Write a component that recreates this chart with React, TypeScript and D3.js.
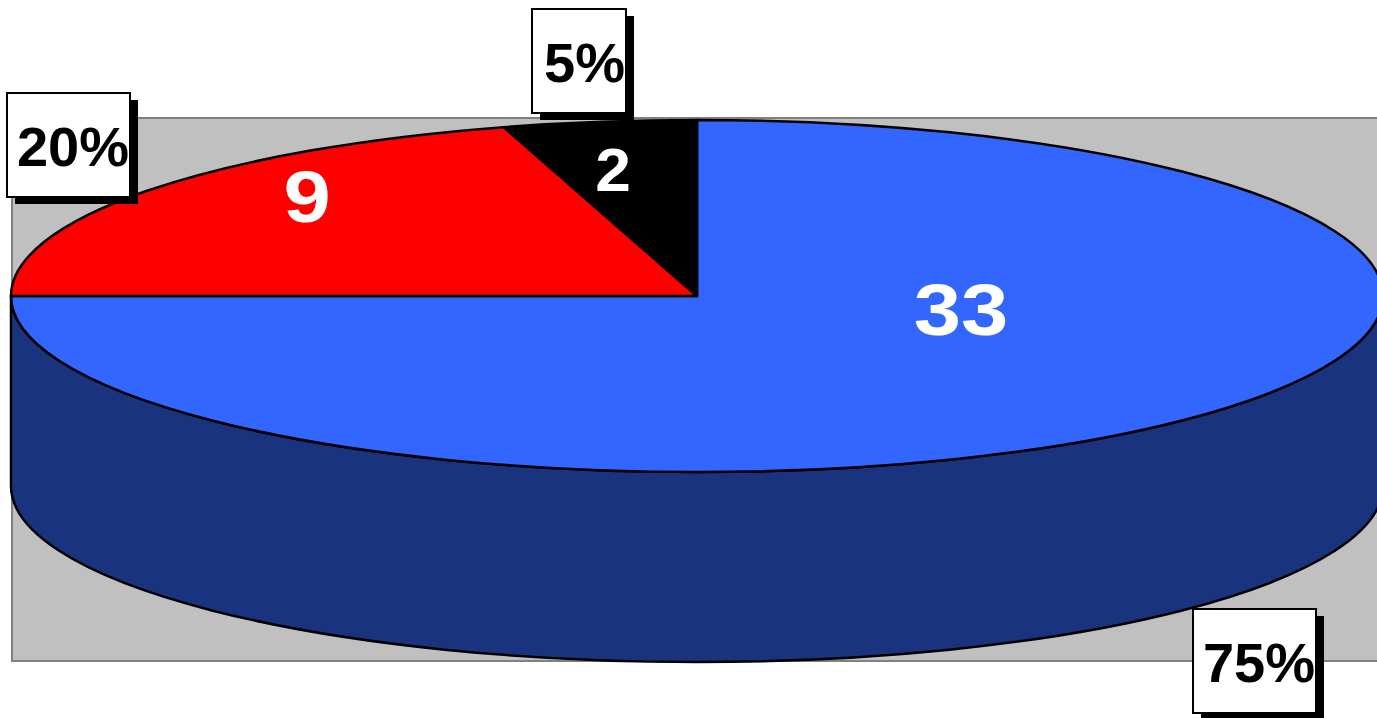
import React from "react";
import * as d3 from "d3";

const categories = ["A", "B", "C"];
const values = [33, 9, 2];
const percentLabels = ["75%", "20%", "5%"];
const topColors = ["#3366FF", "#FF0000", "#000000"];
const sideColors = ["#19337E", "#7F0000", "#000000"];

// layout
const W = 1377;
const H = 718;
const cx = 697;
const cy = 296;
const rx = 686;
const ry = 176;
const depth = 190;
const plot = { x: 12, y: 118, w: 1380, h: 543 };
const valueLabelPos = [
  { x: 961, y: 335, size: 72, sx: 1.18 },
  { x: 307, y: 222, size: 72, sx: 1.18 },
  { x: 613, y: 191, size: 61, sx: 1.05 },
];
const boxPos = [
  { x: 1193, y: 609, w: 123, h: 104 },
  { x: 7, y: 93, w: 123, h: 104 },
  { x: 532, y: 9, w: 94, h: 104 },
];

const pt = (a: number, dy = 0): [number, number] => [
  cx + rx * Math.sin(a),
  cy - ry * Math.cos(a) + dy,
];

function topPath(a0: number, a1: number) {
  const p0 = pt(a0);
  const p1 = pt(a1);
  const large = a1 - a0 > Math.PI ? 1 : 0;
  return `M${cx},${cy}L${p0[0]},${p0[1]}A${rx},${ry} 0 ${large} 1 ${p1[0]},${p1[1]}Z`;
}

function sidePath(a0: number, a1: number) {
  const s = Math.max(a0, Math.PI / 2);
  const e = Math.min(a1, (3 * Math.PI) / 2);
  if (e <= s) return null;
  const p0 = pt(s);
  const p1 = pt(e);
  const q1 = pt(e, depth);
  const q0 = pt(s, depth);
  return `M${p0[0]},${p0[1]}A${rx},${ry} 0 0 1 ${p1[0]},${p1[1]}L${q1[0]},${q1[1]}A${rx},${ry} 0 0 0 ${q0[0]},${q0[1]}Z`;
}

export default function App() {
  const pie = d3.pie<number>().sort(null).value((d) => d)(values);
  const font = "'Liberation Sans', Arial, sans-serif";
  return (
    <svg
      width={W}
      height={H}
      style={{ position: "absolute", left: 0, top: 0, background: "#fff" }}
    >
      <rect
        x={plot.x}
        y={plot.y}
        width={plot.w}
        height={plot.h}
        fill="#C0C0C0"
        stroke="#808080"
        strokeWidth={2}
      />
      {pie.map((s, i) => {
        const d = sidePath(s.startAngle, s.endAngle);
        return d ? (
          <path key={"s" + i} d={d} fill={sideColors[i]} stroke="#000" strokeWidth={2.5} strokeLinejoin="round" />
        ) : null;
      })}
      {pie.map((s, i) => (
        <path
          key={"t" + i}
          d={topPath(s.startAngle, s.endAngle)}
          fill={topColors[i]}
          stroke="#000"
          strokeWidth={2.5}
          strokeLinejoin="round"
        />
      ))}
      {pie.map((s, i) => {
        const p = valueLabelPos[i];
        return (
          <text
            key={"v" + i}
            transform={`translate(${p.x},${p.y}) scale(${p.sx},1)`}
            textAnchor="middle"
            fill="#fff"
            fontFamily={font}
            fontWeight="bold"
            fontSize={p.size}
          >
            {values[i]}
          </text>
        );
      })}
      {percentLabels.map((t, i) => {
        const b = boxPos[i];
        return (
          <g key={"b" + i}>
            <rect x={b.x + 8} y={b.y + 7} width={b.w} height={b.h} fill="#000" />
            <rect x={b.x} y={b.y} width={b.w} height={b.h} fill="#fff" stroke="#000" strokeWidth={2} />
            <text
              x={b.x + b.w - 1}
              y={b.y + 73}
              textAnchor="end"
              fill="#000"
              fontFamily={font}
              fontWeight="bold"
              fontSize={56}
            >
              {t}
            </text>
          </g>
        );
      })}
    </svg>
  );
}
